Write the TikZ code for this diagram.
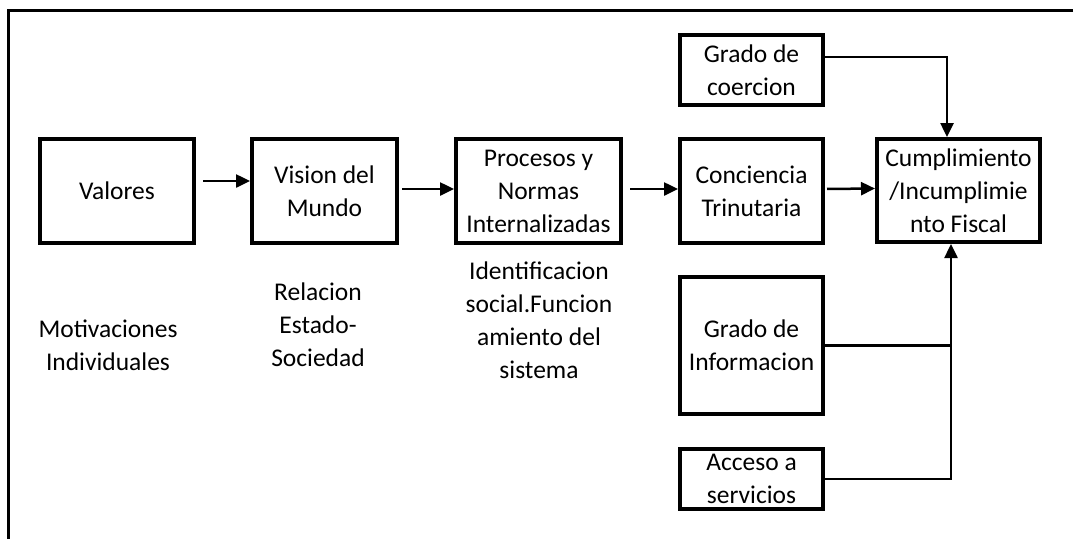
\documentclass[tikz,border=0pt]{standalone}
\usepackage{fontspec}
\setmainfont{Carlito}
\usepackage{tikz}
\usetikzlibrary{arrows.meta}
\tikzset{>={Triangle[length=14pt,width=13pt]}}
\tikzset{caja/.style={draw,line width=4pt,align=center,inner sep=0pt},
etiq/.style={align=center,inner sep=0pt},
flecha/.style={->,line width=2.5pt},
linea/.style={line width=2.2pt}}

\begin{document}
\begin{tikzpicture}[x=1pt,y=-1pt,font=\fontsize{25.5}{33}\selectfont]
\useasboundingbox (0,0) rectangle (1074,539);
\draw [line width=3pt] (1073,10) -- (8,10) -- (8,539);
\node [caja,minimum width=154pt,minimum height=104pt] (valores) at (117,191) {Valores};
\node [caja,minimum width=145pt,minimum height=104pt] (vision) at (324.5,191) {Vision del\\Mundo};
\node [caja,minimum width=165pt,minimum height=104pt] (procesos) at (538.5,191) {Procesos y\\Normas\\Internalizadas};
\node [caja,minimum width=143pt,minimum height=104pt] (conciencia) at (751.5,191) {Conciencia\\Trinutaria};
\node [caja,minimum width=163pt,minimum height=103pt] (cumpl) at (958.5,190.5) {Cumplimiento\\/Incumplimie\\nto Fiscal};
\node [caja,minimum width=143pt,minimum height=70pt] (coercion) at (751.5,70) {Grado de\\coercion};
\node [caja,minimum width=143pt,minimum height=137pt] (informacion) at (751.5,345.5) {Grado de\\Informacion};
\node [caja,minimum width=143pt,minimum height=60pt] (acceso) at (751.5,479) {Acceso a\\servicios};
\node [etiq] (motiv) at (108,345) {Motivaciones\\Individuales};
\node [etiq] (relacion) at (318,325) {Relacion\\Estado-\\Sociedad};
\node [etiq] (ident) at (539,320) {Identificacion\\social.Funcion\\amiento del\\sistema};
\draw [flecha,shorten <=7pt] ([yshift=10pt]valores.east) -- ([yshift=10pt]vision.west);
\draw [flecha,shorten <=3pt] ([yshift=2pt]vision.east) -- ([yshift=2pt]procesos.west);
\draw [flecha,shorten <=7pt] ([yshift=2pt]procesos.east) -- ([yshift=2pt]conciencia.west);
\draw [flecha,shorten <=2pt] ([yshift=2pt]conciencia.east) -- ([yshift=2pt]cumpl.west);
\draw [flecha] ([yshift=13pt]coercion.east) -| ([xshift=-11.5pt]cumpl.north);
\coordinate (union) at ([xshift=-7.5pt]cumpl.south |- informacion.east);
\draw [linea] (informacion.east) -- (union);
\draw [flecha] (acceso.east) -| ([xshift=-7.5pt]cumpl.south);
\end{tikzpicture}
\end{document}
